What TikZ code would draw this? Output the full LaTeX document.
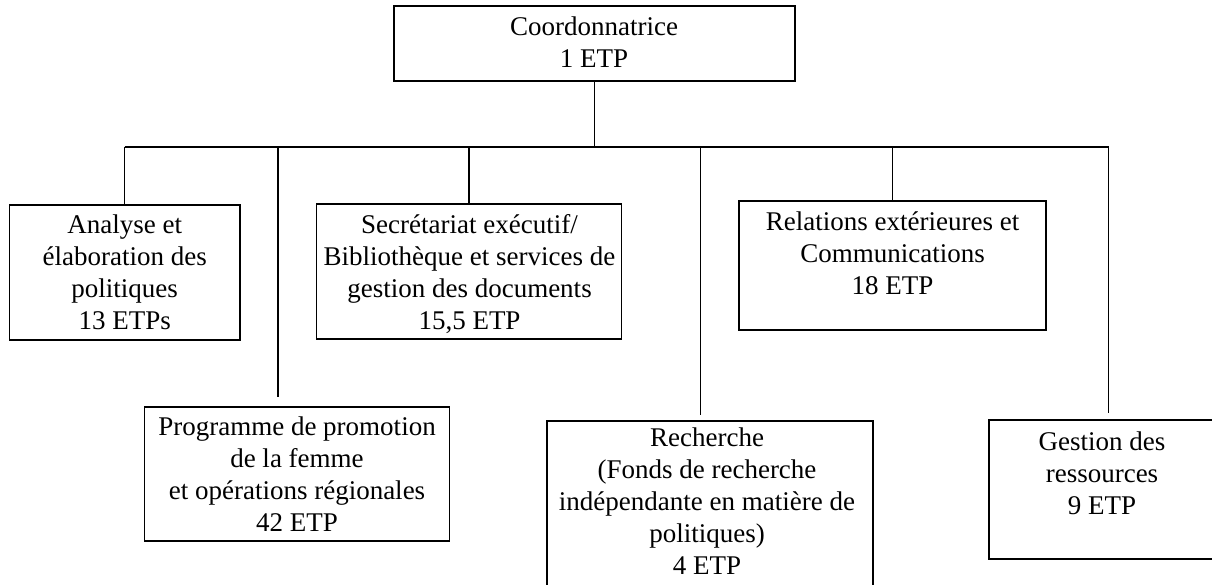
\documentclass[tikz,border=0pt]{standalone}
\usepackage{fontspec}
\setmainfont{Liberation Serif}
\begin{document}
\begin{tikzpicture}[x=1pt,y=-1pt,
  box/.style={draw,line width=1.9pt,inner sep=0pt,outer sep=0pt},
  txt/.style={font=\fontsize{27}{32}\selectfont,align=center,inner sep=0pt,anchor=north},
  conn/.style={line width=1.4pt},
  busline/.style={line width=1.9pt}]
\clip (0,0) rectangle (1212,584);
\fill[white] (0,0) rectangle (1212,584);
% boxes
\node[box,minimum width=400.6pt,minimum height=75pt] (coord) at (594.3,43.2) {};
\node[box,minimum width=230.5pt,minimum height=135pt] (analyse) at (124.75,272.5) {};
\node[box,minimum width=305pt,minimum height=134.7pt] (secr) at (469,271.3) {};
\node[box,minimum width=305pt,minimum height=134pt] (prog) at (297,473.7) {};
\node[box,minimum width=306.7pt,minimum height=129pt] (rel) at (892.6,265.5) {};
\node[box,minimum width=325.4pt,minimum height=171pt] (rech) at (710,506.5) {};
\node[box,minimum width=225.7pt,minimum height=139pt] (gest) at (1102,489.5) {};
% texts
\node[txt] (tcoord) at (594,35-22.4) {\strut Coordonnatrice\\1 ETP};
\node[txt] (tanalyse) at (124.7,233.3-22.4) {\strut Analyse et\\élaboration des\\politiques\\13 ETPs};
\node[txt] (tsecr) at (469.5,233.3-22.4) {\strut Secrétariat exécutif/\\Bibliothèque et services de\\gestion des documents\\15,5 ETP};
\node[txt] (tprog) at (297,435-22.4) {\strut Programme de promotion\\de la femme\\et opérations régionales\\42 ETP};
\node[txt] (trel) at (892.6,230-22.4) {\strut Relations extérieures et\\Communications\\18 ETP};
\node[txt] (trech) at (707,446.7-22.4) {\strut Recherche\\(Fonds de recherche\\indépendante en matière de\\politiques)\\4 ETP};
\node[txt] (tgest) at (1102,450-22.4) {\strut Gestion des\\ressources\\9 ETP};
% bus and free ends
\coordinate (busL) at (124.7,147);
\coordinate (busR) at (1108.5,147);
\coordinate (progT) at (278,397);
\coordinate (rechT) at (700.7,415);
\coordinate (gestT) at (1108.5,413);
% connectors
\draw[conn] (coord.south) -- (coord.south |- busL);
\draw[busline] (busL) -- (busR);
\draw[conn] (analyse.north |- busL) -- (analyse.north);
\draw[conn] (progT |- busL) -- (progT);
\draw[conn] (secr.north |- busL) -- (secr.north);
\draw[conn] (rechT |- busL) -- (rechT);
\draw[conn] (rel.north |- busL) -- (rel.north);
\draw[conn] (busR) -- (gestT);
\end{tikzpicture}
\end{document}
